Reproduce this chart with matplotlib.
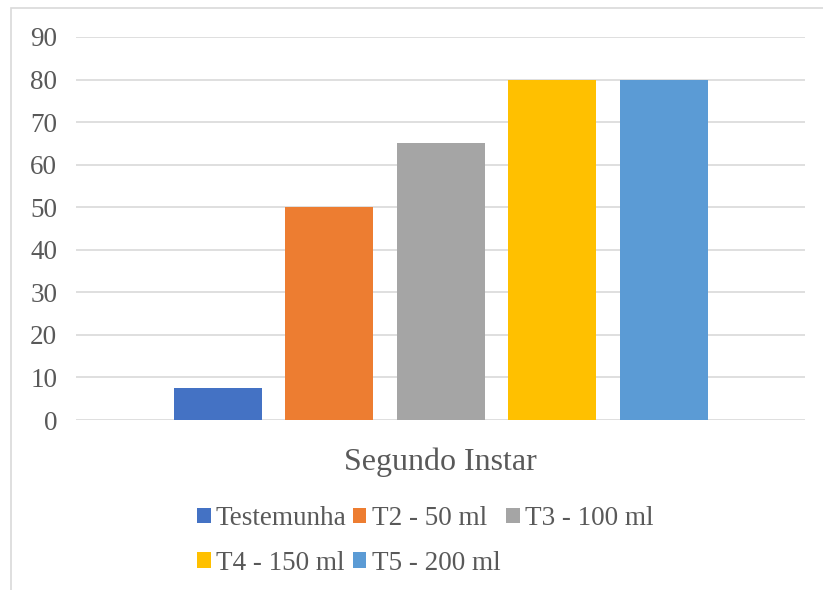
import matplotlib
matplotlib.use("Agg")
import matplotlib.pyplot as plt
from matplotlib.patches import Rectangle, Patch

categories = ["Segundo Instar"]
series_names = ["Testemunha", "T2 - 50 ml", "T3 - 100 ml", "T4 - 150 ml", "T5 - 200 ml"]
values = [7.5, 50, 65, 80, 80]
colors = ["#4472C4", "#ED7D31", "#A5A5A5", "#FFC000", "#5B9BD5"]
yticks = [0, 10, 20, 30, 40, 50, 60, 70, 80, 90]

plt.rcParams['font.family'] = ['Liberation Serif', 'DejaVu Serif']

W, H = 823, 590
fig = plt.figure(figsize=(W / 100, H / 100), dpi=100)
fig.patches.append(Rectangle((11 / W, -0.1), 1.2, 1.1 - 8 / H + 0.0, transform=fig.transFigure,
                             facecolor='none', edgecolor='#d9d9d9', linewidth=1.2))

ax = fig.add_axes([76 / W, 1 - 420 / H, (805 - 76) / W, (420 - 37) / H])
bw = 88 / 729
pitch = 111.5 / 729
for i, (name, v, c) in enumerate(zip(series_names, values, colors)):
    ax.bar(0 + (i - 2) * pitch, v, width=bw, color=c, label=name, zorder=3)

ax.set_xlim(-0.5, 0.5)
ax.set_ylim(0, 90)
ax.set_yticks(yticks)
ax.set_xticks([0])
ax.set_xticklabels(categories, fontsize=23, color='#595959')
ax.tick_params(axis='x', length=0, pad=20)
ax.tick_params(axis='y', length=0, pad=13.5, labelsize=19.5, labelcolor='#595959')
for s in ax.spines.values():
    s.set_visible(False)
ax.grid(axis='y', color='#d9d9d9', linewidth=1.2, zorder=0)
ax.set_axisbelow(True)

handles = [Patch(facecolor=c, edgecolor='none') for c in colors]
order = [0, 3, 1, 4, 2]
fig.legend([handles[i] for i in order], [series_names[i] for i in order],
           ncol=3, loc='upper left', bbox_to_anchor=(197 / W, 1 - 506 / H),
           frameon=False, fontsize=19.5, labelcolor='#595959',
           handlelength=0.5, handleheight=0.5, handletextpad=0.2,
           columnspacing=0.22, labelspacing=0.72, borderaxespad=0, borderpad=0)

fig.savefig("out.png", dpi=100)
